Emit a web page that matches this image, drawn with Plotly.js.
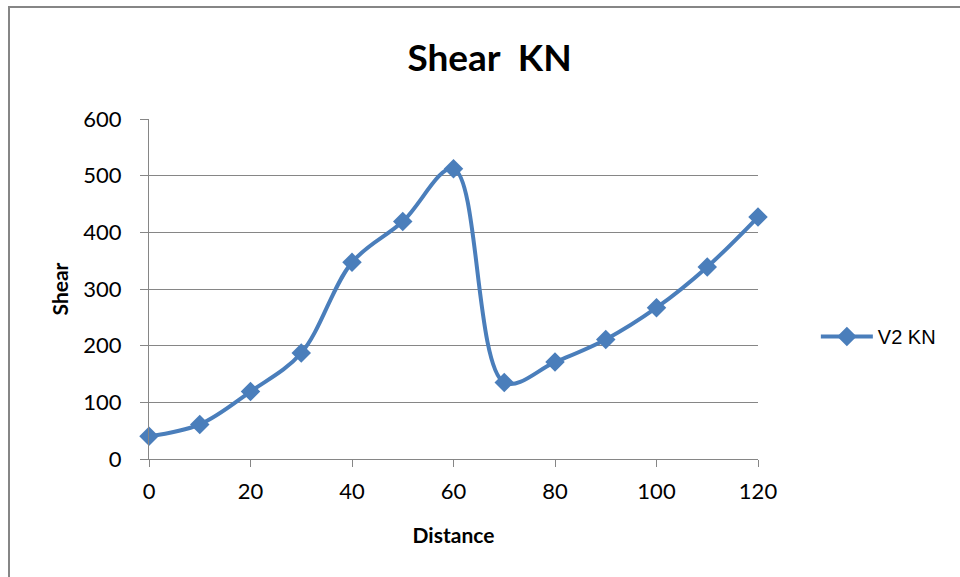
<!DOCTYPE html>
<html>
<head>
<meta charset="utf-8">
<script src="https://cdn.plot.ly/plotly-3.0.1.min.js"></script>
<style>
html,body{margin:0;padding:0;background:#fff;overflow:hidden;}
#frame{position:absolute;left:8px;top:6px;width:1000px;height:620px;border:2px solid #868686;box-sizing:border-box;}
#chart{position:absolute;left:0;top:0;width:960px;height:577px;}
</style>
</head>
<body>
<div id="frame"></div>
<div id="chart"></div>
<script>
const distance = [0, 10, 20, 30, 40, 50, 60, 70, 80, 90, 100, 110, 120];
const shearV2 = [40, 61, 119, 187, 347, 419, 512, 135, 171, 211, 267, 339, 427];
const seriesName = 'V2 KN';
const xTicks = [0, 20, 40, 60, 80, 100, 120];
const yTicks = [0, 100, 200, 300, 400, 500, 600];

const trace = {
  x: distance, y: shearV2, name: seriesName,
  type: 'scatter', mode: 'lines+markers', cliponaxis: false,
  line: {color: '#4A7EBB', width: 4, shape: 'spline', smoothing: 1},
  marker: {symbol: 'diamond', size: 15, color: '#4A7EBB'}
};

const layout = {
  width: 960, height: 577,
  paper_bgcolor: 'rgba(0,0,0,0)', plot_bgcolor: 'rgba(0,0,0,0)',
  margin: {l: 149, r: 202, t: 119, b: 118},
  title: {text: '<b>Shear  KN</b>', font: {family: 'Lato, "Open Sans", sans-serif', size: 37, color: '#000'}, x: 0.51, xanchor: 'center', y: 0.9, yanchor: 'middle'},
  showlegend: true,
  legend: {x: 1.095, y: 0.36, xanchor: 'left', yanchor: 'middle', itemwidth: 52, font: {family: '"Liberation Sans", Arial, sans-serif', size: 20, color: '#000'}},
  xaxis: {
    range: [0, 120], tickvals: xTicks, ticktext: xTicks.map(String),
    showgrid: false, zeroline: false, showline: true, linecolor: '#868686', linewidth: 1,
    ticks: 'outside', ticklen: 7, tickcolor: '#868686', tickwidth: 1, ticklabelstandoff: 6,
    tickfont: {family: 'Lato, sans-serif', size: 22, color: '#000'},
    title: {text: '<b>Distance</b>', font: {family: 'Lato, sans-serif', size: 21, color: '#000'}, standoff: 24}
  },
  yaxis: {
    range: [0, 600], tickvals: yTicks, ticktext: yTicks.map(String),
    showgrid: true, gridcolor: '#868686', gridwidth: 1, zeroline: false,
    showline: true, linecolor: '#868686', linewidth: 1,
    ticks: 'outside', ticklen: 8, tickcolor: '#868686', tickwidth: 1, ticklabelstandoff: 14,
    tickfont: {family: 'Lato, sans-serif', size: 22, color: '#000'},
    title: {text: '<b>Shear</b>', font: {family: 'Lato, sans-serif', size: 21, color: '#000'}, standoff: 8}
  }
};

Plotly.newPlot('chart', [trace], layout, {displayModeBar: false, staticPlot: true});
</script>
</body>
</html>
